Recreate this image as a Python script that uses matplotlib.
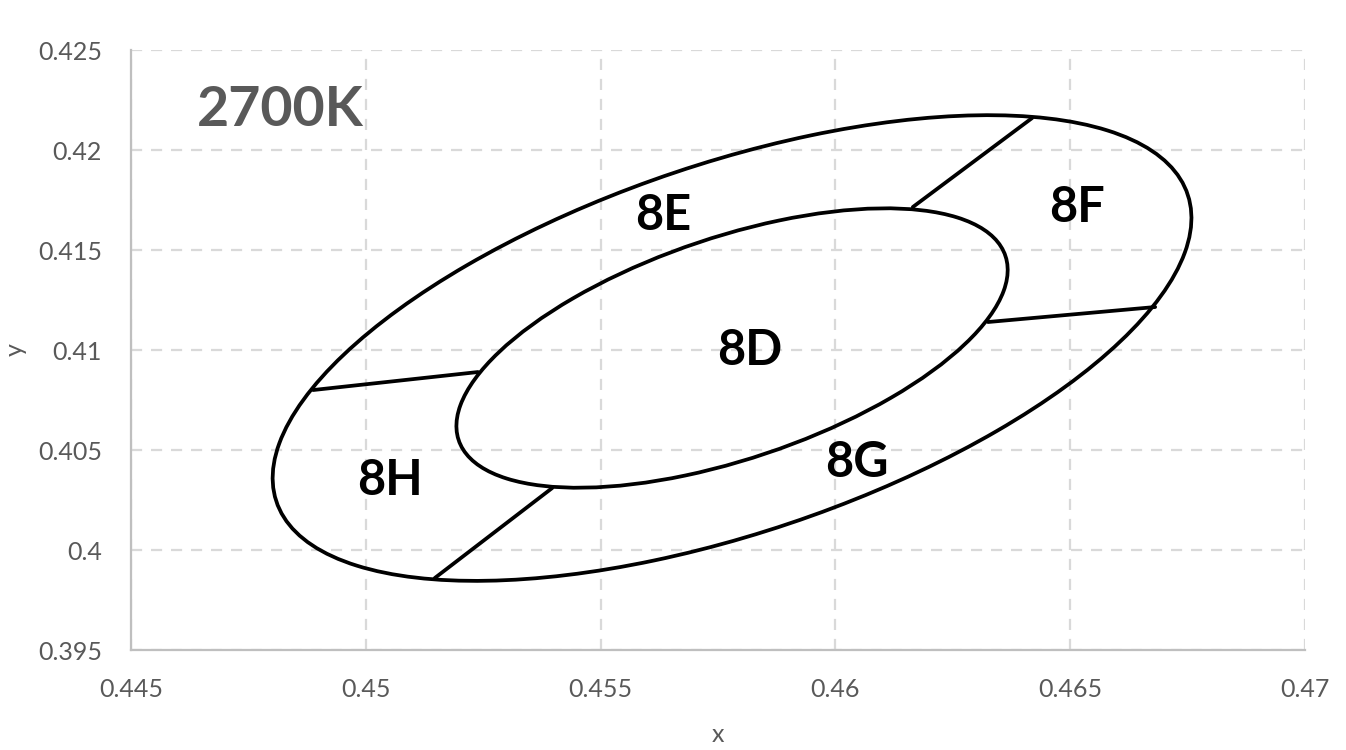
import matplotlib
matplotlib.use('Agg')
import matplotlib.pyplot as plt
from matplotlib.patches import Ellipse

# ANSI 2700K nominal centre and 1-step MacAdam ellipse
center_x = 0.4578
center_y = 0.4101
step_a = 0.0027
step_b = 0.0014
step_angle = 53.7
ellipse_steps = [3, 5]

# boundaries between the outer bins (inner point, outer point)
seg_x = [[0.46165, 0.46419], [0.46325, 0.46681], [0.44888, 0.45239], [0.45147, 0.45397]]
seg_y = [[0.41715, 0.4216], [0.4114, 0.41215], [0.4080, 0.4089], [0.3986, 0.4031]]

bin_names = ['8D', '8E', '8F', '8G', '8H']
bin_x = [0.45818, 0.45633, 0.46515, 0.46046, 0.45052]
bin_y = [0.4100, 0.41675, 0.41713, 0.4044, 0.4035]

x_ticks = [0.445, 0.45, 0.455, 0.46, 0.465, 0.47]
y_ticks = [0.395, 0.4, 0.405, 0.41, 0.415, 0.42, 0.425]

plt.rcParams['font.family'] = ['Lato', 'DejaVu Sans']

fig = plt.figure(figsize=(13.46, 7.5), dpi=100)
ax = fig.add_axes([0.0973, 0.1333, 0.8722, 0.8])

# Ellipses
for n in ellipse_steps:
    ax.add_patch(Ellipse((center_x, center_y), 2 * n * step_a, 2 * n * step_b,
                         angle=step_angle, fill=False, edgecolor='black', lw=2.7, zorder=3))

# Bin boundaries
for xs, ys in zip(seg_x, seg_y):
    ax.plot(xs, ys, color='black', lw=2.7, solid_capstyle='round', zorder=3)

# Labels
for name, x, y in zip(bin_names, bin_x, bin_y):
    ax.text(x, y, name, fontsize=35, fontweight='bold', ha='center', va='center', zorder=4)
ax.text(0.44641, 0.4220, '2700K', fontsize=40, fontweight='bold', color='#595959',
        ha='left', va='center', zorder=4)

ax.set_xlim(0.445, 0.47)
ax.set_ylim(0.395, 0.425)
ax.set_xticks(x_ticks)
ax.set_yticks(y_ticks)
ax.set_xticklabels([f'{v:g}' for v in x_ticks])
ax.set_yticklabels([f'{v:g}' for v in y_ticks])
ax.tick_params(length=0, labelsize=18, labelcolor='#595959')
ax.tick_params(axis='x', pad=20)
ax.tick_params(axis='y', pad=21)
ax.grid(True, color='#d9d9d9', ls=(0, (5, 4)), lw=1.6, zorder=0)
ax.set_axisbelow(True)

for side in ['top', 'right']:
    ax.spines[side].set_visible(False)
for side in ['left', 'bottom']:
    ax.spines[side].set_color('#bfbfbf')
    ax.spines[side].set_linewidth(1.6)

ax.set_xlabel('x', fontsize=18, color='#595959', labelpad=16)
ax.set_ylabel('y', fontsize=18, color='#595959', labelpad=8)

fig.savefig('out.png', dpi=100)
